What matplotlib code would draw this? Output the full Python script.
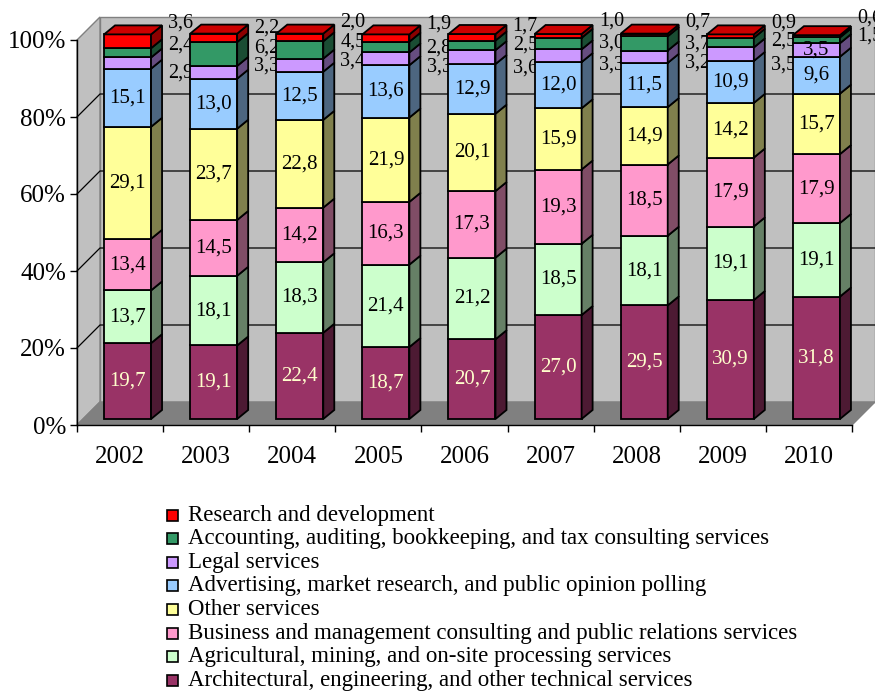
import matplotlib.pyplot as plt
from matplotlib.patches import Polygon, Rectangle
from matplotlib.lines import Line2D

plt.rcParams['font.family'] = ['Liberation Serif', 'DejaVu Serif']

years = ['2002', '2003', '2004', '2005', '2006', '2007', '2008', '2009', '2010']

# shares in %, stacked bottom to top
architectural = [19.7, 19.1, 22.4, 18.7, 20.7, 27.0, 29.5, 30.9, 31.8]
agricultural = [13.7, 18.1, 18.3, 21.4, 21.2, 18.5, 18.1, 19.1, 19.1]
business = [13.4, 14.5, 14.2, 16.3, 17.3, 19.3, 18.5, 17.9, 17.9]
other = [29.1, 23.7, 22.8, 21.9, 20.1, 15.9, 14.9, 14.2, 15.7]
advertising = [15.1, 13.0, 12.5, 13.6, 12.9, 12.0, 11.5, 10.9, 9.6]
legal = [2.9, 3.3, 3.4, 3.3, 3.6, 3.3, 3.2, 3.5, 3.5]
accounting = [2.4, 6.2, 4.5, 2.8, 2.5, 3.0, 3.7, 2.5, 1.5]
research = [3.6, 2.2, 2.0, 1.9, 1.7, 1.0, 0.7, 0.9, 0.6]

names = [
    'Architectural, engineering, and other technical services',
    'Agricultural, mining, and on-site processing services',
    'Business and management consulting and public relations services',
    'Other services',
    'Advertising, market research, and public opinion polling',
    'Legal services',
    'Accounting, auditing, bookkeeping, and tax consulting services',
    'Research and development',
]
series = [architectural, agricultural, business, other, advertising,
          legal, accounting, research]
front_colors = ['#993366', '#CCFFCC', '#FF99CC', '#FFFF99', '#99CCFF',
                '#CC99FF', '#339966', '#FF0000']
side_colors = ['#4D1A33', '#668066', '#804D66', '#80804D', '#4D6680',
               '#664D80', '#1A4D33', '#8C0000']
top_colors = ['#7A2952', '#A3CCA3', '#CC7AA3', '#CCCC7A', '#7AA3CC',
              '#A37ACC', '#297A52', '#CC0000']

# where the labels of the three thin top segments sit (axis %), to the right of each bar
research_lab_y = [104.4, 103.1, 104.6, 104.1, 103.6, 104.9, 104.6, 104.4, 105.6]
accounting_lab_y = [98.7, 97.9, 99.4, 97.9, 98.7, 99.2, 99.0, 99.7, 101.0]
legal_lab_y = [91.4, 93.2, 94.6, 93.0, 92.7, 93.5, 94.0, 93.5, None]

W, H = 875, 691
fig = plt.figure(figsize=(W / 100, H / 100), dpi=100)
ax = fig.add_axes([77 / W, (H - 425) / H, 775 / W, 385 / H])
ax.set_xlim(-0.5, 8.5)
ax.set_ylim(0, 100)
ax.patch.set_visible(False)

PX_X = 775 / 9
PX_Y = 385 / 100


def px(dx, dy):
    return dx / PX_X, dy / PX_Y


wx, wy = px(23, 23)       # depth of the whole box
sx, sy = px(7.5, 6)       # bars sit a little behind the front plane
dx, dy = px(11, 9)        # depth of each bar
bw = 47 / PX_X

x0, x1 = -0.5, 8.5
# walls and floor
ax.add_patch(Polygon([(x0 + wx, wy), (x1 + wx, wy), (x1 + wx, 100 + wy), (x0 + wx, 100 + wy)],
                     closed=True, fc='#C0C0C0', ec='#808080', lw=1, zorder=0, clip_on=False))
ax.add_patch(Polygon([(x0, 0), (x0, 100), (x0 + wx, 100 + wy), (x0 + wx, wy)],
                     closed=True, fc='#C0C0C0', ec='#808080', lw=1, zorder=0, clip_on=False))
ax.add_patch(Polygon([(x0, 0), (x1, 0), (x1 + wx, wy), (x0 + wx, wy)],
                     closed=True, fc='#808080', ec='#808080', lw=1, zorder=0.5, clip_on=False))
for g in [20, 40, 60, 80]:
    ax.add_line(Line2D([x0, x0 + wx, x1 + wx], [g, g + wy, g + wy], color='black',
                       lw=0.9, zorder=0.6, clip_on=False))

xs = list(range(len(years)))
cum = [0.0] * len(years)
for k, vals in enumerate(series):
    bottoms = [c + sy for c in cum]
    ax.bar([x + sx for x in xs], vals, width=bw, bottom=bottoms, color=front_colors[k],
           edgecolor='black', linewidth=1.3, zorder=3, clip_on=False)
    for i, v in enumerate(vals):
        xr = i + sx + bw / 2
        b, t = bottoms[i], bottoms[i] + v
        ax.add_patch(Polygon([(xr, b), (xr, t), (xr + dx, t + dy), (xr + dx, b + dy)],
                             closed=True, fc=side_colors[k], ec='black', lw=1.3,
                             zorder=3, clip_on=False))
        if k == len(series) - 1:
            xl = i + sx - bw / 2
            ax.add_patch(Polygon([(xl, t), (xr, t), (xr + dx, t + dy), (xl + dx, t + dy)],
                                 closed=True, fc=top_colors[k], ec='black', lw=1.3,
                                 zorder=3, clip_on=False))
        label = f'{v:.1f}'.replace('.', ',')
        if k < 5 or (k == 5 and legal_lab_y[i] is None):
            ax.text(i + sx, b + v / 2, label, ha='center', va='center', fontsize=15,
                    color='#FFFFCC' if k == 0 else 'black', zorder=4)
        else:
            ly = {5: legal_lab_y, 6: accounting_lab_y, 7: research_lab_y}[k][i]
            ax.text(i + 0.705, ly, label, ha='center', va='center', fontsize=14.5,
                    color='black', zorder=2.9, clip_on=False)
    cum = [c + v for c, v in zip(cum, vals)]

# axes
for s in ['top', 'right']:
    ax.spines[s].set_visible(False)
ax.spines['left'].set_linewidth(1)
ax.spines['bottom'].set_linewidth(1)
ax.set_yticks(range(0, 101, 20))
ax.set_yticklabels([f'{t}%' for t in range(0, 101, 20)], fontsize=18)
ax.set_xticks(xs)
ax.set_xticklabels(years, fontsize=18)
ax.set_xticks([x - 0.5 for x in range(len(years) + 1)], minor=True)
ax.tick_params(axis='y', length=5, width=1, pad=3, color='black')
ax.tick_params(axis='x', which='major', length=0, pad=15)
ax.tick_params(axis='x', which='minor', length=5, width=1)

# legend, top entry first
for r, k in enumerate(reversed(range(len(names)))):
    yc = 515 + r * 23.6
    fig.patches.append(Rectangle((167 / W, 1 - (yc + 5.5) / H), 11 / W, 11 / H,
                                 transform=fig.transFigure, fc=front_colors[k],
                                 ec='black', lw=1.2))
    fig.text(188 / W, 1 - yc / H, names[k], ha='left', va='center', fontsize=16.5)

fig.savefig('out.png', dpi=100)
